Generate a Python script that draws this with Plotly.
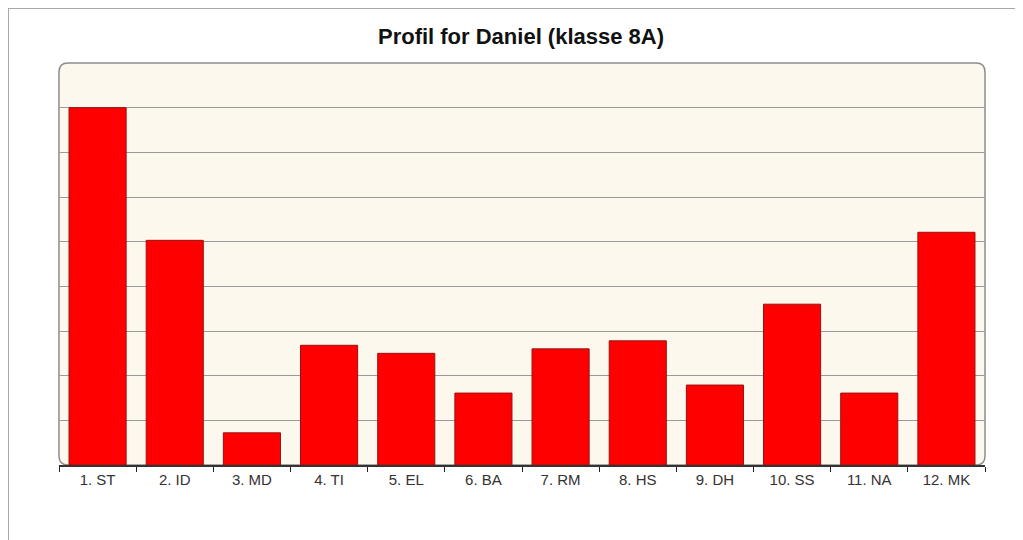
import plotly.graph_objects as go

# data
categories = ["1. ST", "2. ID", "3. MD", "4. TI", "5. EL", "6. BA",
              "7. RM", "8. HS", "9. DH", "10. SS", "11. NA", "12. MK"]
scores = [8.0, 5.03, 0.72, 2.68, 2.5, 1.61, 2.6, 2.78, 1.79, 3.6, 1.61, 5.21]

# page puts the figure 8px in from the top-left corner
W, H = 1015, 532
L, T = 51, 55
pw, ph = 926, 402
R, B = W - L - pw, H - T - ph

def px_x(v):
    return (v - L) / pw

def px_y(v):
    return (H - B - v) / ph

fig = go.Figure(go.Bar(
    x=categories, y=scores,
    marker=dict(color="#FF0000", line=dict(color="#9A1010", width=1)),
    width=0.74,
))

# rounded plot background
rx, ry = 9 / pw, 9 / ph
bg_path = (f"M {rx},0 L {1-rx},0 Q 1,0 1,{ry} L 1,{1-ry} Q 1,1 {1-rx},1 "
           f"L {rx},1 Q 0,1 0,{1-ry} L 0,{ry} Q 0,0 {rx},0 Z")
fig.add_shape(type="path", path=bg_path, xref="paper", yref="paper",
              fillcolor="#FCF8EE", line=dict(color="#8C8C8C", width=1.5), layer="below")
# outer frame
fig.add_shape(type="rect", xref="paper", yref="paper",
              x0=px_x(0), x1=px_x(1040), y0=px_y(560), y1=px_y(0),
              line=dict(color="#A8A8A8", width=2), fillcolor="rgba(0,0,0,0)", layer="below")

fig.update_layout(
    width=W, height=H,
    margin=dict(l=L, r=R, t=T, b=B),
    paper_bgcolor="white", plot_bgcolor="rgba(0,0,0,0)",
    showlegend=False,
    title=dict(text="<b>Profil for Daniel (klasse 8A)</b>", x=(L + pw / 2 - 1) / W, xanchor="center",
               y=1 - 28 / H, yanchor="middle",
               font=dict(family="Liberation Sans, Arial", size=22, color="#111111")),
    font=dict(family="Liberation Sans, Arial", size=15, color="#333333"),
)
fig.update_xaxes(
    showgrid=False, tickson="boundaries", ticks="outside", ticklen=5,
    tickcolor="#222222", showline=True, linecolor="#333333", linewidth=1.5,
    tickfont=dict(size=15, color="#333333"), range=[-0.5, 11.5],
)
fig.update_yaxes(
    range=[0, 9], dtick=1, showgrid=True, gridcolor="#9A9A9A", gridwidth=1,
    showticklabels=False, zeroline=False, showline=False,
)

fig.write_html("out.html")
